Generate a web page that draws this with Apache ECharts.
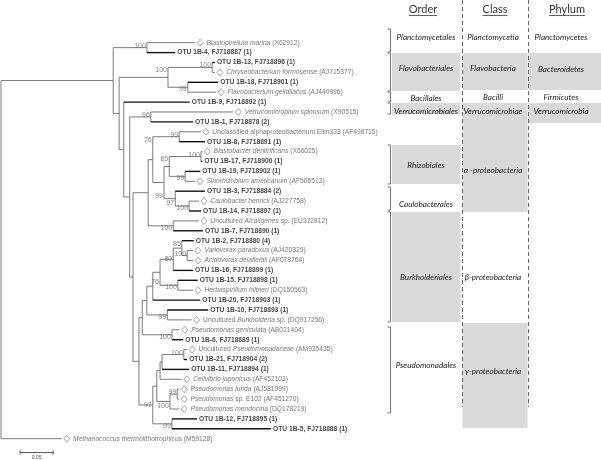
<!DOCTYPE html>
<html><head><meta charset="utf-8">
<script src="https://cdn.jsdelivr.net/npm/echarts@6.0.0/dist/echarts.min.js"></script>
<style>html,body{margin:0;padding:0;background:#fff}#c{width:601px;height:460px}</style>
</head><body><div id="c"></div>
<script>
// ---------- DATA ----------
const leafLabels = [
 '{i|Blastopirellula marina} (X62912)',
 'OTU 1B-4, FJ718887 (1)',
 'OTU 1B-13, FJ718896 (1)',
 '{i|Chryseobacterium formosense} (AJ715377)',
 'OTU 1B-18, FJ718901 (1)',
 '{i|Flavobacterium gelidilacus} (AJ440996)',
 'OTU 1B-9, FJ718892 (1)',
 '{i|Verrucomicrobium spinosum} (X90515)',
 'OTU 1B-1, FJ718878 (2)',
 'Unclassified alphaproteobacterium Ellin333 (AF498715)',
 'OTU 1B-8, FJ718891 (1)',
 '{i|Blastobacter denitrificans} (X66025)',
 'OTU 1B-17, FJ718900 (1)',
 'OTU 1B-19, FJ718902 (1)',
 '{i|Sinorhizobium americanum} (AF506513)',
 'OTU 1B-3, FJ718884 (2)',
 '{i|Caulobacter henricii} (AJ227758)',
 'OTU 1B-14, FJ718897 (1)',
 'Uncultured {i|Alcaligenes} sp. (EU372812)',
 'OTU 1B-7, FJ718890 (1)',
 'OTU 1B-2, FJ718880 (4)',
 '{i|Variovorax paradoxus} (AJ420329)',
 '{i|Acidovorax delafieldii} (AF078764)',
 'OTU 1B-16, FJ718899 (1)',
 'OTU 1B-15, FJ718898 (1)',
 '{i|Herbaspirillum hiltneri} (DQ150563)',
 'OTU 1B-20, FJ718903 (1)',
 'OTU 1B-10, FJ718893 (1)',
 'Uncultured {i|Burkholderia} sp. (DQ917256)',
 '{i|Pseudomonas geniculata} (AB021404)',
 'OTU 1B-6, FJ718889 (1)',
 'Uncultured {i|Pseudomonadaceae} (AM935435)',
 'OTU 1B-21, FJ718904 (2)',
 'OTU 1B-11, FJ718894 (1)',
 '{i|Cellvibrio japonicus} (AF452103)',
 '{i|Pseudomonas lurida} (AJ581999)',
 '{i|Pseudomonas} sp. E102 (AF451270)',
 '{i|Pseudomonas mendocina} (DQ178219)',
 'OTU 1B-12, FJ718895 (1)',
 'OTU 1B-5, FJ718888 (1)',
 '{i|Methanococcus thermolithotrophicus} (M59128)'
];
// distance of each leaf tip from the root (substitutions/site)
const tipDepth = [0.294,0.264,0.324,0.324,0.329,0.326,0.286,0.352,0.291,0.303,
 0.309,0.305,0.305,0.302,0.294,0.309,0.300,0.303,0.300,0.306,
 0.292,0.291,0.291,0.291,0.298,0.291,0.302,0.314,0.289,0.271,
 0.276,0.282,0.282,0.285,0.274,0.270,0.270,0.270,0.297,0.409,0.092];
// internal nodes
const nodeIds = ['root','I','Pl','N2','Fl','F1','F2','N3','N4','Ve','P','Al','A76','E','A99','Rh','R1','R2','Ca','C1','Alc',
 'B7','B6','B5','B4','B3','B2','B1','V','H','Bu','Ps','G97','G','U3','U2','U','Me','Lu','O'];
const nodeChildren = [
 ['I',40],['Pl','N2'],[0,1],['Fl','N3'],['F1','F2'],[2,3],[4,5],[6,'N4'],['Ve','P'],[7,8],['Al','B7'],['A76','Alc'],['E','A99'],[9,10],['Rh','Ca'],['R1','R2'],[11,12],[13,14],[15,'C1'],[16,17],[18,19],
 ['B6','G97'],['B5','Ps'],['B4','Bu'],['B3',26],['B2','H'],['B1',23],[20,'V'],[21,22],[24,25],[27,28],[29,30],['G','O'],['U3','Me'],['U2',34],['U',33],[31,32],['Lu',37],[35,36],[38,39]
];
const nodeDepth = [0,0.170,0.221,0.179,0.253,0.320,0.283,0.186,0.195,0.227,0.200,0.223,0.230,0.270,0.247,0.255,0.303,0.279,0.264,0.285,0.261,
 0.209,0.214,0.221,0.230,0.241,0.261,0.274,0.282,0.268,0.252,0.259,0.230,0.236,0.241,0.244,0.277,0.256,0.267,0.259];
const nodeSupport = [null,null,100,null,100,100,99,null,null,96,null,null,76,99,99,85,100,99,97,100,100,
 null,null,null,null,76,80,85,100,100,99,100,97,null,null,null,100,100,99,99];
const scaleBarLength = 0.05;

// taxonomy table (extents in leaf-row units)
const orderNames = ['Planctomycetales','Flavobacteriales','Bacillales','Verrucomicrobiales','Rhizobiales','Caulobacterales','Burkholderiales','Pseudomonadales'];
const orderFrom  = [-1.38,1.04,4.98,6.09,10.33,14.58,17.10,28.72];
const orderTo    = [0.94,4.88,5.99,7.20,14.27,16.91,28.21,37.40];
const orderShaded= [0,1,0,1,1,0,1,0];
const classNames = ['Planctomycetia','Flavobacteria','Bacilli','Verrucomicrobiae','α -proteobacteria','β-proteobacteria','γ-proteobacteria'];
const classFrom  = [-1.38,1.04,4.98,6.09,7.30,17.10,28.31];
const classTo    = [0.94,4.78,5.99,7.30,17.10,28.21,38.92];
const classShaded= [0,1,0,1,1,0,1];
const phylumNames = ['Planctomycetes','Bacteroidetes','Firmicutes','Verrucomicrobia'];
const phylumFrom  = [-1.38,1.04,4.98,6.09];
const phylumTo    = [0.94,4.78,5.99,8.11];
const phylumShaded= [0,1,0,1];
const headers = ['Order','Class','Phylum'];

// ---------- LAYOUT / STYLE ----------
const orderTextRow = [-0.58,2.56,5.59,6.9,12.35,16.29,23.67,32.55];
const classTextRow = [-0.58,2.56,5.48,6.9,12.93,23.67,33.16];
const phylumTextRow = [-0.58,2.65,5.5,6.9];
const supportAnchor = {Pl:'t',Fl:'t',F1:'t',F2:'b',Ve:'t',A76:'t',E:'t',A99:'b',Rh:'t',R1:'t',R2:'b',Ca:'b',C1:'b',Alc:'b',
  B3:'b',B2:'m',B1:'t',V:'t',H:'b',Bu:'b',Ps:'b',G97:'m',U:'t',Me:'b',Lu:'t',O:'b'};
const colLeft = [1,71.5,137.5], colRight=[69.5,136.5,210], colTextX=[35,102,170], headerX=[32,104,176];
const ROW_MIN = -4.313, ROW_MAX = 42.152;
const TABLEFONT = 8.1;

// ---------- TREE GEOMETRY ----------
const idx = {}; nodeIds.forEach((id,i)=>idx[id]=i);
const isOTU = i => leafLabels[i].startsWith('OTU');
const ycache = {};
function ypos(r){ if (typeof r==='number') return r; if (ycache[r]!==undefined) return ycache[r];
  const ys = nodeChildren[idx[r]].map(ypos); return ycache[r]=(ys[0]+ys[ys.length-1])/2; }
function xpos(r){ return typeof r==='number' ? tipDepth[r] : nodeDepth[idx[r]]; }
const segs = [];
nodeIds.forEach((id,i)=>{
  const x = nodeDepth[i]; const ys = nodeChildren[i].map(ypos);
  segs.push([x,Math.min(...ys),x,Math.max(...ys),0]);
  nodeChildren[i].forEach((c,k)=>{ segs.push([x,ys[k],xpos(c),ys[k],(typeof c==='number'&&isOTU(c))?1:0]); });
});
const supportPts = [];
nodeIds.forEach((id,i)=>{
  if (nodeSupport[i]==null) return;
  const ys = nodeChildren[i].map(ypos); const a = supportAnchor[id]||'m';
  const y = a==='t' ? Math.min(...ys)+0.3 : a==='b' ? Math.max(...ys)-0.3 : (ys[0]+ys[ys.length-1])/2;
  supportPts.push({value:[nodeDepth[i],y], label:String(nodeSupport[i])});
});
const refPts=[], otuPts=[];
leafLabels.forEach((l,i)=>{ (isOTU(i)?otuPts:refPts).push({value:[tipDepth[i],i], name:l}); });

const cells = [];
orderNames.forEach((n,i)=>cells.push({col:0,name:n,from:orderFrom[i],to:orderTo[i],shaded:orderShaded[i],tr:orderTextRow[i]}));
classNames.forEach((n,i)=>cells.push({col:1,name:n,from:classFrom[i],to:classTo[i],shaded:classShaded[i],tr:classTextRow[i]}));
phylumNames.forEach((n,i)=>cells.push({col:2,name:n,from:phylumFrom[i],to:phylumTo[i],shaded:phylumShaded[i],tr:phylumTextRow[i]}));

const TREEFONT = 'Liberation Sans';
const chart = echarts.init(document.getElementById('c'), null, {renderer:'canvas'});
chart.setOption({
  animation:false,
  grid:[{left:1,top:0,width:330,height:460},{left:391,top:0,width:210,height:460}],
  xAxis:[{type:'value',min:0,max:0.5,show:false,gridIndex:0},{type:'value',min:0,max:210,show:false,gridIndex:1}],
  yAxis:[{type:'value',min:ROW_MIN,max:ROW_MAX,inverse:true,show:false,gridIndex:0},{type:'value',min:ROW_MIN,max:ROW_MAX,inverse:true,show:false,gridIndex:1}],
  series:[
    {type:'custom',xAxisIndex:0,yAxisIndex:0,silent:true,clip:false,data:segs,encode:{x:[0,2],y:[1,3]},z:2,
     renderItem(p,api){ const a=api.coord([api.value(0),api.value(1)]), b=api.coord([api.value(2),api.value(3)]); const o=api.value(4)===1;
       return {type:'line',shape:{x1:a[0],y1:a[1],x2:b[0],y2:b[1]},style:{stroke:o?'#111':'#7a7a7a',lineWidth:o?1.4:1}}; }},
    {type:'scatter',xAxisIndex:0,yAxisIndex:0,silent:true,data:refPts,symbol:'diamond',symbolSize:[6,7],symbolOffset:[5,0],z:3,
     itemStyle:{color:'#fff',borderColor:'#777',borderWidth:0.8},
     label:{show:true,position:'right',distance:3,formatter:p=>p.name,fontFamily:TREEFONT,fontSize:6.7,color:'#555',
       rich:{i:{fontStyle:'italic',fontFamily:TREEFONT,fontSize:6.7,color:'#555'}}}},
    {type:'scatter',xAxisIndex:0,yAxisIndex:0,silent:true,data:otuPts,symbolSize:0.1,z:3,
     label:{show:true,position:'right',distance:2,formatter:p=>p.name,fontFamily:TREEFONT,fontSize:6.7,fontWeight:'bold',color:'#111'}},
    {type:'scatter',xAxisIndex:0,yAxisIndex:0,silent:true,data:supportPts,symbolSize:0.1,z:3,
     label:{show:true,position:'left',distance:1,formatter:p=>p.data.label,fontFamily:TREEFONT,fontSize:7,color:'#666'}},
    {type:'custom',xAxisIndex:0,yAxisIndex:0,silent:true,clip:false,data:[[0.029,41.4]],z:2,
     renderItem(p,api){ const a=api.coord([api.value(0),api.value(1)]), b=api.coord([api.value(0)+scaleBarLength,api.value(1)]);
       return {type:'group',children:[
         {type:'line',shape:{x1:a[0],y1:a[1],x2:b[0],y2:b[1]},style:{stroke:'#555',lineWidth:1}},
         {type:'line',shape:{x1:a[0],y1:a[1]-2,x2:a[0],y2:a[1]+2},style:{stroke:'#555',lineWidth:1}},
         {type:'line',shape:{x1:b[0],y1:b[1]-2,x2:b[0],y2:b[1]+2},style:{stroke:'#555',lineWidth:1}},
         {type:'text',style:{text:String(scaleBarLength),x:(a[0]+b[0])/2,y:a[1]+3,align:'center',verticalAlign:'top',fontSize:5,fontFamily:TREEFONT,fill:'#555'}}]}; }},
    {type:'custom',xAxisIndex:1,yAxisIndex:1,silent:true,clip:false,data:cells.map(c=>[colTextX[c.col],c.tr]),z:1,
     renderItem(p,api){ const c=cells[p.dataIndex]; const ch=[];
       const tl=api.coord([colLeft[c.col],c.from]), br=api.coord([colRight[c.col],c.to]);
       if (c.shaded) ch.push({type:'rect',shape:{x:tl[0],y:tl[1],width:br[0]-tl[0],height:br[1]-tl[1]},style:{fill:'#d9d9d9'}});
       if (c.col===0){ const t=api.coord([-0.5,c.from]), b=api.coord([-0.5,c.to]);
         ch.push({type:'polyline',shape:{points:[[t[0]-3,t[1]],[t[0],t[1]],[b[0],b[1]],[b[0]-3,b[1]]]},style:{stroke:'#777',lineWidth:1,fill:null}}); }
       const tp=api.coord([colTextX[c.col],c.tr]);
       ch.push({type:'text',z2:5,style:{text:c.name,x:tp[0],y:tp[1],align:'center',verticalAlign:'middle',fontStyle:'italic',fontSize:TABLEFONT,fontFamily:'Lato',fill:'#1a1a1a'}});
       return {type:'group',children:ch}; }},
    {type:'custom',xAxisIndex:1,yAxisIndex:1,silent:true,clip:false,data:[[71,36.8],[137,36.8]],z:4,
     renderItem(p,api){ const a=api.coord([api.value(0),ROW_MIN]), b=api.coord([api.value(0),api.value(1)]);
       return {type:'line',shape:{x1:Math.round(a[0])+0.5,y1:a[1],x2:Math.round(b[0])+0.5,y2:b[1]},style:{stroke:'#666',lineWidth:1,lineDash:[4,3]}}; }},
    {type:'custom',xAxisIndex:1,yAxisIndex:1,silent:true,clip:false,data:headers.map((h,i)=>[headerX[i],-3.35]),z:4,
     renderItem(p,api){ const a=api.coord([api.value(0),api.value(1)]); const t=headers[p.dataIndex];
       const w=echarts.format.getTextRect ? echarts.format.getTextRect(t,'11px Lato').width : t.length*6;
       return {type:'group',children:[
         {type:'text',style:{text:t,x:a[0],y:a[1],align:'center',verticalAlign:'middle',fontSize:11,fontFamily:'Lato',fill:'#333'}},
         {type:'line',shape:{x1:a[0]-w/2,y1:a[1]+6,x2:a[0]+w/2,y2:a[1]+6},style:{stroke:'#333',lineWidth:0.8}}]}; }}
  ]
});
</script></body></html>
